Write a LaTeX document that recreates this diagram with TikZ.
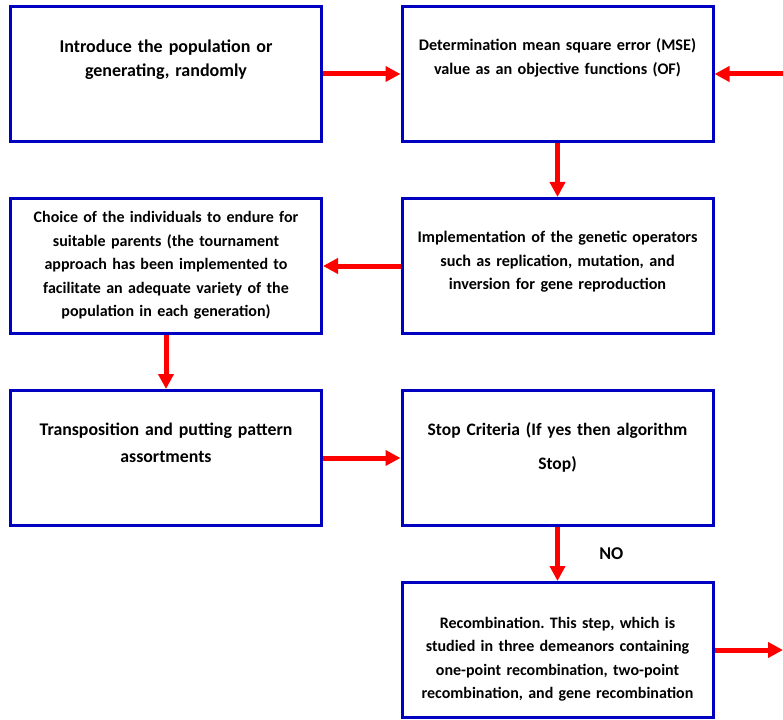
\documentclass[tikz,border=0pt]{standalone}
\usepackage{fontspec}
\setmainfont{Carlito}
\frenchspacing
\usetikzlibrary{positioning,arrows.meta}
\definecolor{boxblue}{RGB}{0,0,192}

\tikzset{
  box/.style={draw=boxblue, line width=3pt, minimum width=311pt, minimum height=135pt,
    inner sep=2pt, text width=305pt, align=center, text height=16pt},
  arr/.style={line width=5pt, -{Triangle[length=15pt,width=15pt]},
    every edge/.append style={draw=red}},
  txt/.style 2 args={font=\fontsize{#1}{#2}\selectfont\bfseries},
}

\begin{document}
\begin{tikzpicture}[x=1pt,y=-1pt,node distance=192pt and 391.5pt,on grid,txt={16}{23.5}]
            \useasboundingbox (0,0) rectangle (783,719);
            \node[box, txt={18}{23.6}, text depth=58.6pt] (init) at (166,74)
                {Introduce the population or\\generating, randomly};
            \node[box, txt={16.2}{23.4}, text depth=62.6pt] (mse) [right=of init]
                {Determination mean square error (MSE)\\value as an objective functions (OF)};
            \node[box, txt={16.2}{23.4}, text depth=62.8pt] (gen_op) [below=of mse]
                {Implementation of the genetic operators\\such as replication, mutation, and\\inversion for gene reproduction};
            \node[box, text depth=102.8pt] (select) [below=of init]
                {Choice of the individuals to endure for\\suitable parents (the tournament\\approach has been implemented to\\facilitate an adequate variety of the\\population in each generation)};
            \node[box, txt={17.8}{26.7}, text depth=60.6pt] (transp) [below=of select]
                {Transposition and putting pattern\\assortments};
            \node[box, txt={17.5}{34.3}, text depth=61pt] (stop_crit) [below=of gen_op]
                {Stop Criteria (If yes then algorithm\\Stop)};
            \node[box, text depth=60pt] (recomb) [below=of stop_crit]
                {Recombination. This step, which is\\studied in three demeanors containing\\one-point recombination, two-point\\recombination, and gene recombination};
            \coordinate (back) at (783,74);
            \coordinate (next) at (783,650);
            \path[arr]
                (init)
                    edge (mse)
                (back)
                    edge (mse)
                (mse)
                    edge (gen_op)
                (gen_op)
                    edge (select)
                (select)
                    edge (transp)
                (transp)
                    edge (stop_crit)
                (stop_crit)
                    edge node[right=36pt, txt={18}{20}] {NO} (recomb)
                (recomb)
                    edge (next);
        \end{tikzpicture}
\end{document}
